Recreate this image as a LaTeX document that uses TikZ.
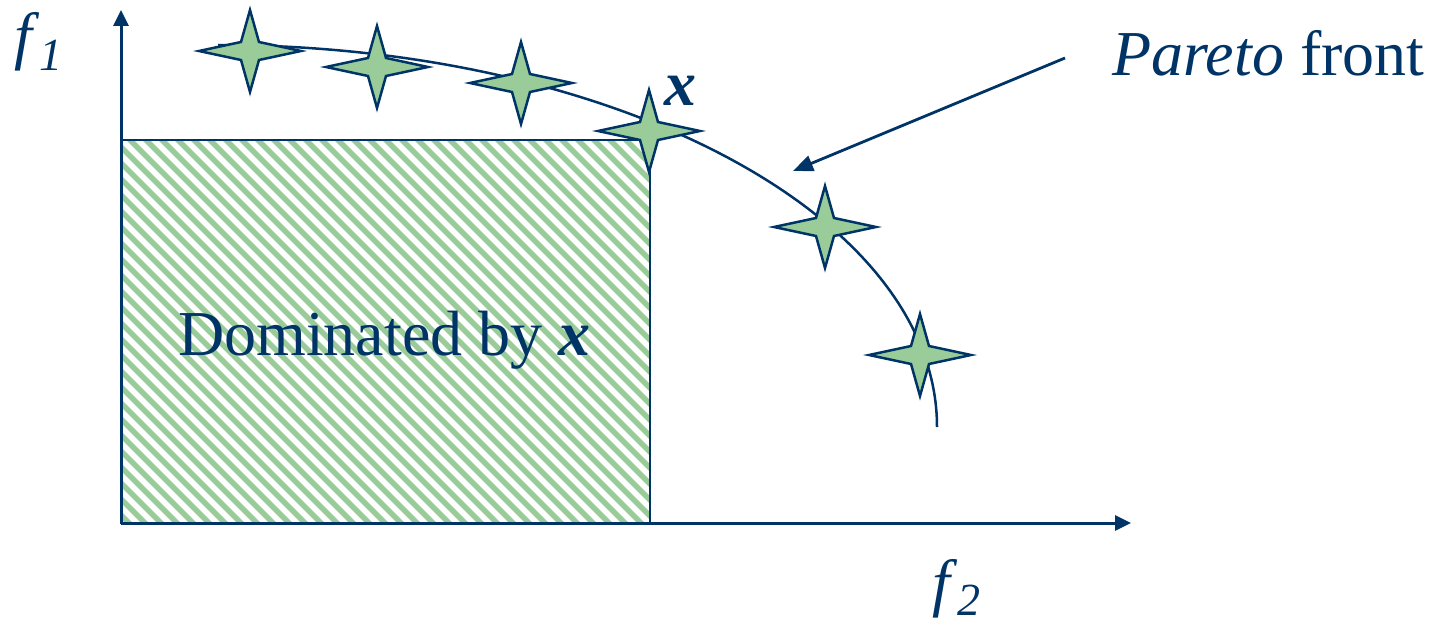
\documentclass[tikz,border=0pt]{standalone}
\usepackage{fontspec}
\setmainfont{Liberation Serif}
\usetikzlibrary{arrows.meta}
\definecolor{navy}{RGB}{0,51,102}
\definecolor{lgreen}{RGB}{153,204,153}
\tikzset{
  axisline/.style={navy,line width=3pt,-{Triangle[length=16pt,width=15pt]}},
  frontline/.style={navy,line width=2.5pt},
  pointer/.style={navy,line width=2.8pt,-{Triangle[length=20pt,width=16pt]}},
  stripe/.style={lgreen,line width=5.5pt},
  lbl/.style={text=navy,inner sep=0pt,anchor=base west,font=\fontsize{64}{64}\selectfont},
  starfour/.pic={
    \draw[navy,line width=2.5pt,fill=lgreen,line join=miter]
      (0,-41) -- (9,-9) -- (51,0) -- (9,9) -- (0,41) -- (-9,9) -- (-51,0) -- (-9,-9) -- cycle;
  }
}
\begin{document}
\begin{tikzpicture}[x=1pt,y=-1pt]
\useasboundingbox (0,0) rectangle (1435,626);
% hatched dominated region
\begin{scope}
  \clip (121,140) rectangle (650,523);
  \foreach \i in {-424,-408,...,670} \draw[stripe] (\i,130) -- ++(410,410);
\end{scope}
\draw[frontline] (121,140) rectangle (650,523);
% axes
\coordinate (O) at (121,523);
\coordinate (ytip) at (121,10);
\coordinate (xtip) at (1131,523);
\draw[axisline] (O) -- (ytip);
\draw[axisline] (O) -- (xtip);
% Pareto front curve
\coordinate (cstart) at (218,45);
\draw[frontline] (cstart) arc[start angle=-90,end angle=0,x radius=719,y radius=382];
% stars
\pic at (250,51) {starfour};
\pic at (377,67) {starfour};
\pic at (521,83) {starfour};
\pic at (649,131) {starfour};
\pic at (825,227) {starfour};
\pic at (920,355) {starfour};
% labels
\node[lbl] (f1) at (14,58) {\textit{f}\raisebox{-13pt}{\fontsize{46}{46}\selectfont\textit{1}}};
\node[lbl] (f2) at (932,604) {\textit{f}\raisebox{-11pt}{\fontsize{46}{46}\selectfont\textit{2}}};
\node[lbl] (pf) at (1112,75) {\textit{Pareto} front};
\node[lbl] (dom) at (178,355) {Dominated by \textbf{\textit{x}}};
\node[lbl] (xl) at (664,106) {\textbf{\textit{x}}};
% pointer
\coordinate (ptail) at (1065,58);
\coordinate (phead) at (793,171);
\draw[pointer] (ptail) -- (phead);
\end{tikzpicture}
\end{document}
